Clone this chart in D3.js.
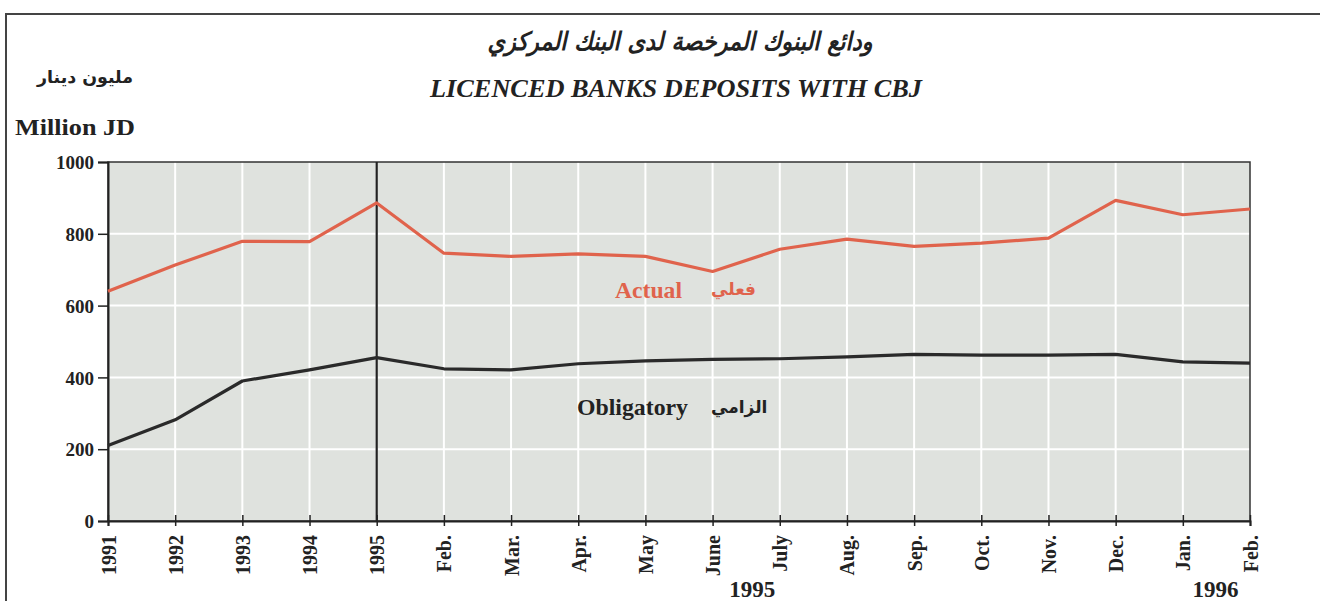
<!DOCTYPE html>
<html><head><meta charset="utf-8">
<script src="https://cdn.jsdelivr.net/npm/d3@7"></script>
<style>
body{margin:0;background:#fff;}
svg{display:block;}
.lat{font-family:"Liberation Serif","Times New Roman",serif;font-weight:bold;fill:#222;}
.ar{font-family:"DejaVu Sans","Noto Sans",sans-serif;font-weight:bold;fill:#222;}
</style></head>
<body>
<svg id="c" width="1320" height="601"></svg>
<script>
const categories = ["1991","1992","1993","1994","1995","Feb.","Mar.","Apr.","May","June","July","Aug.","Sep.","Oct.","Nov.","Dec.","Jan.","Feb."];
const actual = [640,713,779,778,886,746,737,744,737,695,757,785,765,774,788,893,853,869];
const obligatory = [210,282,390,421,455,424,421,438,446,450,452,457,464,462,462,464,443,440];
const yTicks = [0,200,400,600,800,1000];
const yearGroups = [{label:"1995", from:9, to:10}, {label:"1996", from:16, to:17}];

const svg = d3.select("#c");
const L = 108, R = 1250, T = 162, B = 521;
const idx = categories.map((d,i)=>i);
const x = d3.scalePoint().domain(idx).range([L,R]);
const y = d3.scaleLinear().domain([0,1000]).range([B,T]);

// outer frame
svg.append("path").attr("d","M6,601 L6,14 L1320,14").attr("fill","none").attr("stroke","#444").attr("stroke-width",2);

// titles
svg.append("text").attr("class","ar").attr("x",680).attr("y",50).attr("text-anchor","middle")
  .attr("font-size",25).attr("font-style","italic")
  .attr("textLength",385).attr("lengthAdjust","spacingAndGlyphs")
  .text("ودائع البنوك المرخصة لدى البنك المركزي");
svg.append("text").attr("class","lat").attr("x",676).attr("y",97).attr("text-anchor","middle")
  .attr("font-size",25).attr("font-style","italic")
  .attr("textLength",492).attr("lengthAdjust","spacingAndGlyphs")
  .text("LICENCED BANKS DEPOSITS WITH CBJ");
svg.append("text").attr("class","ar").attr("x",133).attr("y",83).attr("text-anchor","end")
  .attr("font-size",17).attr("textLength",96).attr("lengthAdjust","spacingAndGlyphs").text("مليون دينار");
svg.append("text").attr("class","lat").attr("x",15).attr("y",135).attr("font-size",23)
  .attr("textLength",120).attr("lengthAdjust","spacingAndGlyphs").text("Million JD");

// plot background
svg.append("rect").attr("x",L).attr("y",T).attr("width",R-L).attr("height",B-T).attr("fill","#dfe2de");

// grid
svg.append("g").selectAll("line").data(yTicks.filter(v=>v>0&&v<1000)).join("line")
  .attr("x1",L).attr("x2",R).attr("y1",d=>y(d)).attr("y2",d=>y(d)).attr("stroke","#fff").attr("stroke-width",2);
svg.append("g").selectAll("line").data(idx.slice(1,-1)).join("line")
  .attr("x1",d=>x(d)).attr("x2",d=>x(d)).attr("y1",T).attr("y2",B).attr("stroke","#fff").attr("stroke-width",2);

// plot border
svg.append("rect").attr("x",L).attr("y",T).attr("width",R-L).attr("height",B-T).attr("fill","none").attr("stroke","#333").attr("stroke-width",1.5);

// divider at 1995
svg.append("line").attr("x1",x(4)).attr("x2",x(4)).attr("y1",T).attr("y2",B).attr("stroke","#222").attr("stroke-width",2.2);

// axes
const yAxis = d3.axisLeft(y).tickValues(yTicks).tickFormat(d3.format("d")).tickSize(10).tickPadding(4);
const gy = svg.append("g").attr("transform",`translate(${L},0)`).call(yAxis);
gy.attr("font-size",null).attr("font-family",null);
gy.select(".domain").attr("stroke","#222").attr("stroke-width",2);
gy.selectAll(".tick line").attr("stroke","#222").attr("stroke-width",1.5);
gy.selectAll(".tick text").attr("class","lat").style("font-size","19px").attr("dy","0.35em");

const xAxis = d3.axisBottom(x).tickFormat(i=>categories[i]).tickSize(5).tickPadding(0);
const gx = svg.append("g").attr("transform",`translate(0,${B})`).call(xAxis);
gx.attr("font-size",null).attr("font-family",null);
gx.select(".domain").attr("stroke","#222").attr("stroke-width",2);
gx.selectAll(".tick line").attr("stroke","#222").attr("stroke-width",1.5).attr("y1",-6);
gx.selectAll(".tick text").attr("class","lat").style("font-size","20px")
  .attr("transform","rotate(-90)").attr("text-anchor","end").attr("x",-14).attr("y",0).attr("dy","0.35em");

// lines
const line = d3.line().x((d,i)=>x(i)).y(d=>y(d));
svg.append("path").datum(obligatory).attr("d",line).attr("fill","none").attr("stroke","#2a2a2a").attr("stroke-width",3.2).attr("stroke-linejoin","round");
svg.append("path").datum(actual).attr("d",line).attr("fill","none").attr("stroke","#e0634c").attr("stroke-width",3.2).attr("stroke-linejoin","round");

// series labels
svg.append("text").attr("class","lat").attr("x",615).attr("y",298).attr("font-size",23)
  .attr("textLength",67).attr("lengthAdjust","spacingAndGlyphs").style("fill","#e0634c").text("Actual");
svg.append("text").attr("class","ar").attr("x",711).attr("y",295).attr("font-size",17).style("fill","#e0634c").text("فعلي");
svg.append("text").attr("class","lat").attr("x",577).attr("y",415).attr("font-size",23)
  .attr("textLength",111).attr("lengthAdjust","spacingAndGlyphs").text("Obligatory");
svg.append("text").attr("class","ar").attr("x",711).attr("y",413).attr("font-size",17).text("الزامي");

// year group labels
const yearShift = [6, -1];
yearGroups.forEach((g,k)=>{
  svg.append("text").attr("class","lat").attr("x",(x(g.from)+x(g.to))/2 + yearShift[k]).attr("y",597)
    .attr("text-anchor","middle").attr("font-size",23).text(g.label);
});
</script>
</body></html>
